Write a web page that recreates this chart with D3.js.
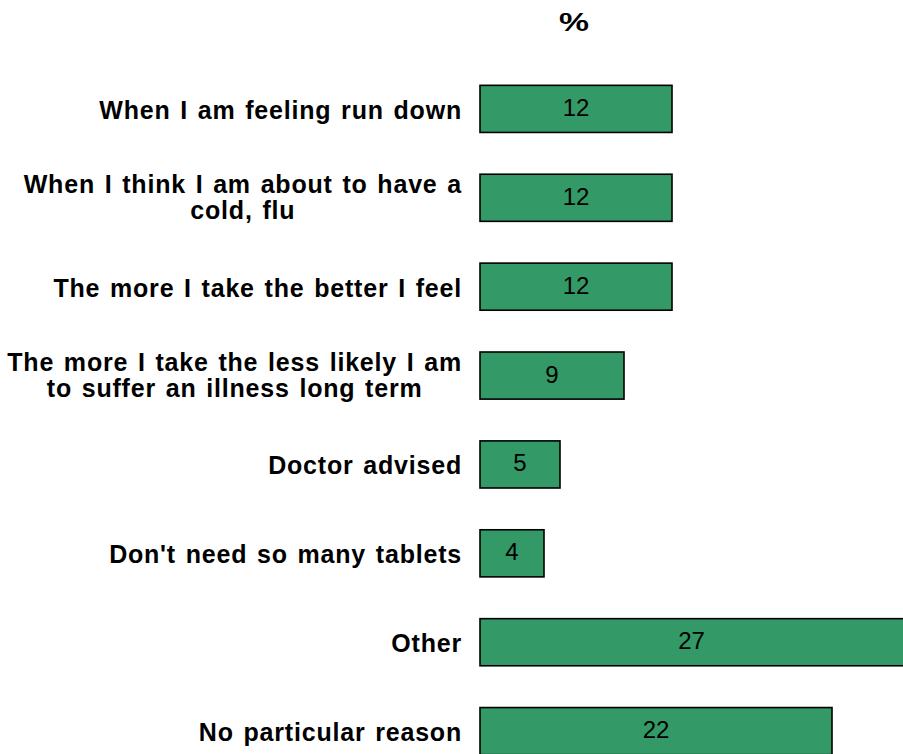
<!DOCTYPE html>
<html>
<head>
<meta charset="utf-8">
<script src="https://cdn.jsdelivr.net/npm/d3@7"></script>
<style>
  html, body { margin: 0; padding: 0; background: #fff; }
  svg { display: block; }
</style>
</head>
<body>
<svg id="chart" width="903" height="754"></svg>
<script>
// Reasons given, one label line per array entry
const categories = [
  ["When I am feeling run down"],
  ["When I think I am about to have a", "cold, flu"],
  ["The more I take the better I feel"],
  ["The more I take the less likely I am", "to suffer an illness long term"],
  ["Doctor advised"],
  ["Don't need so many tablets"],
  ["Other"],
  ["No particular reason"]
];
const values = [12, 12, 12, 9, 5, 4, 27, 22];
const unitLabel = "%";

const width = 903, height = 754;
const font = "Liberation Sans, Arial, sans-serif";
const svg = d3.select("#chart");

const x = d3.scaleLinear().domain([0, 27]).range([480, 912]);
const y = d3.scaleBand()
  .domain(d3.range(categories.length))
  .range([64, 776])
  .paddingInner(0.47)
  .paddingOuter(0.24);

// unit caption above the bars
svg.append("text")
  .attr("transform", "translate(574,31) scale(1.35,1)")
  .attr("text-anchor", "middle")
  .attr("font-family", font)
  .attr("font-size", 25)
  .attr("font-weight", "bold")
  .text(unitLabel);

const rows = svg.selectAll("g.row")
  .data(values.map((v, i) => ({ v, i, lines: categories[i] })))
  .join("g").attr("class", "row");

rows.append("rect")
  .attr("x", x(0))
  .attr("y", d => y(d.i))
  .attr("width", d => x(d.v) - x(0))
  .attr("height", y.bandwidth())
  .attr("fill", "#339966")
  .attr("stroke", "#000")
  .attr("stroke-width", 1.6);

// value inside each bar, centred on the visible part
rows.append("text")
  .attr("x", d => (x(0) + Math.min(x(d.v), width)) / 2)
  .attr("y", d => y(d.i) + y.bandwidth() / 2 + 7)
  .attr("text-anchor", "middle")
  .attr("font-family", font)
  .attr("font-size", 24)
  .attr("fill", "#000")
  .text(d => d.v);

// category labels to the left of the bars
const labelRight = 462;
const lineH = 26;
rows.each(function (d) {
  const g = d3.select(this);
  const n = d.lines.length;
  const cy = y(d.i) + y.bandwidth() / 2 + (n > 1 ? 8 : 10);
  const t = g.append("text")
    .attr("font-family", font)
    .attr("font-size", 25)
    .attr("font-weight", "bold")
    .attr("letter-spacing", 0.8)
    .attr("word-spacing", 2)
    .attr("fill", "#000");
  const spans = d.lines.map((ln, k) => t.append("tspan")
    .attr("y", cy + (k - (n - 1) / 2) * lineH)
    .text(ln));
  if (n === 1) {
    t.attr("text-anchor", "end");
    spans[0].attr("x", labelRight);
  } else {
    const maxW = d3.max(spans, s => s.node().getComputedTextLength());
    t.attr("text-anchor", "middle");
    spans.forEach(s => s.attr("x", labelRight - maxW / 2));
  }
});
</script>
</body>
</html>
